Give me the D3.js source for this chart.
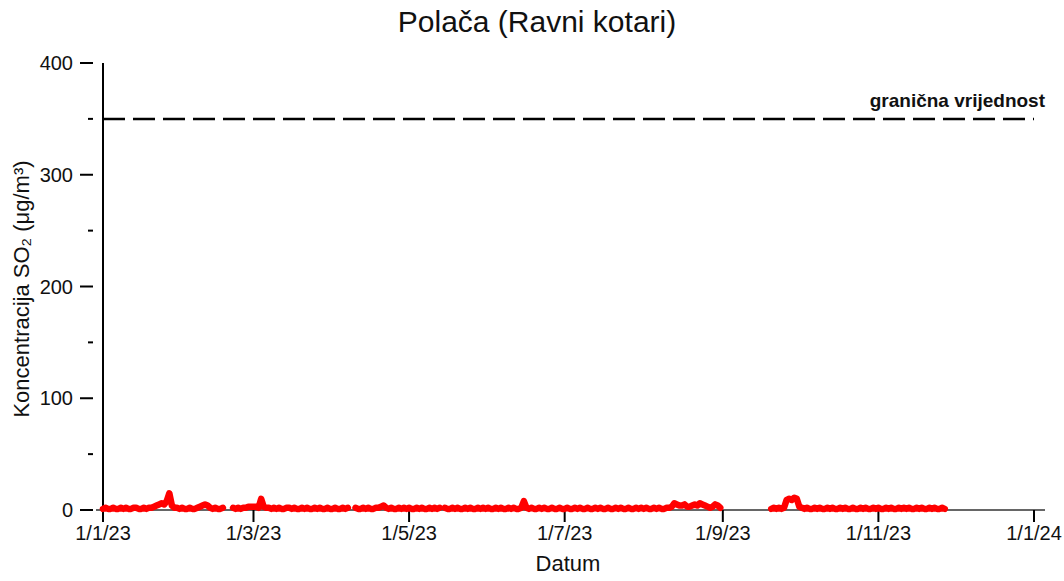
<!DOCTYPE html>
<html>
<head>
<meta charset="utf-8">
<script src="https://cdn.jsdelivr.net/npm/d3@7"></script>
<style>
  body { margin: 0; background: #fff; }
  text { font-family: "Liberation Sans", Arial, sans-serif; }
</style>
</head>
<body>
<script>
// daily SO2 values (µg/m³), null = no data
var jan = [1,2,1,1,2,1,1,2,1,2, 1,1,2,2,1,1,2,1,2,2, 3,4,5,6,5,8,15,4,2,2, 1]
var feb = [2,1,1,2,1,1,2,3,4,5, 4,2,1,2,1,1,2,null,null,null, 2,1,2,1,2,2,3,3]
var mar = [3,3,2,10,3,2,2,1,2,1, 2,1,1,2,2,1,2,1,1,2, 1,2,1,1,2,1,2,1,1,2, 1]
var apr = [1,2,1,1,2,1,2,null,null,2, 1,1,2,1,2,1,1,2,2,3, 4,2,1,2,1,1,2,1,2,1]
var may = [2,1,1,2,1,2,1,1,2,1, 2,1,2,null,2,1,1,2,1,2, 1,1,2,1,2,1,1,2,1,2, 1]
var jun = [2,1,1,2,1,2,1,1,2,1, 2,1,1,2,8,2,1,2,1,1, 2,1,2,1,1,2,1,1,2,1]
var jul = [1,2,1,1,2,1,2,1,1,2, 1,1,2,1,2,1,1,2,1,1, 2,1,2,1,1,2,1,1,2,1, 2]
var aug = [1,2,1,1,2,1,2,1,1,2, 2,3,6,5,4,4,5,3,3,4, 5,4,6,5,4,3,2,3,5,4, 2]
var sep = [null,null,null,null,null,null,null,null,null,null,
           null,null,null,null,null,null,null,null,null,
           1,2,1,2,1,2, 9,10,9,11,10]
var oct = [3,2,1,2,1,1,2,1,2,1, 1,2,1,2,1,1,2,1,2,1, 1,2,1,1,2,1,2,1,1,2, 1]
var nov = [2,1,1,2,1,2,1,1,2,1, 2,1,2,1,1,2,1,2,1,1, 2,1,2,1,1,2,1]

var limitValue = 350
var limitLabel = "granična vrijednost"
var xTickDates = ["2023-01-01","2023-03-01","2023-05-01","2023-07-01","2023-09-01","2023-11-01","2024-01-01"]
var yMajorTicks = [0,100,200,300,400]
var yMinorTicks = [50,150,250,350]

svg_w = 1064
svg_h = 581
var svg = d3.select("body").append("svg")
        .attr("width", svg_w)
        .attr("height", svg_h)

var values = [].concat(jan,feb,mar,apr,may,jun,jul,aug,sep,oct,nov)
var start = new Date(2023,0,1)
var data = values.map((v,i) => ({date: d3.timeDay.offset(start, i), v: v}))

var xscale = d3.scaleTime().domain([new Date(2023,0,1), new Date(2024,0,1)]).range([103,1034])
var yscale = d3.scaleLinear().domain([0,400]).range([510,63])
var parse = d3.timeParse("%Y-%m-%d")

// title
svg.append("text").attr("x", 537).attr("y", 32)
   .attr("text-anchor","middle").attr("font-size", 30).attr("fill","#111")
   .text("Polača (Ravni kotari)")

// x axis line
svg.append("line").attr("x1", 96).attr("x2", 1045).attr("y1", 510).attr("y2", 510)
   .attr("stroke","#333").attr("stroke-width",1.5)

// x ticks
var xTicks = svg.append("g").selectAll("g").data(xTickDates).enter().append("g")
   .attr("transform", d => "translate(" + xscale(parse(d)) + ",0)")
xTicks.append("line").attr("y1",510).attr("y2",522).attr("stroke","#000").attr("stroke-width",2)
xTicks.append("text").attr("y",540).attr("text-anchor","middle").attr("font-size",20).attr("fill","#111")
   .text(d => { var p = parse(d); return p.getDate()+"/"+(p.getMonth()+1)+"/"+d3.timeFormat("%y")(p) })

// y axis line
svg.append("line").attr("x1",103).attr("x2",103).attr("y1",63).attr("y2",510)
   .attr("stroke","#000").attr("stroke-width",2)

var yt = svg.append("g").selectAll("g").data(yMajorTicks).enter().append("g")
   .attr("transform", d => "translate(0," + yscale(d) + ")")
yt.append("line").attr("x1",80).attr("x2",93).attr("stroke","#000").attr("stroke-width",2)
yt.append("text").attr("x",73).attr("dy","0.35em").attr("text-anchor","end").attr("font-size",20).attr("fill","#111")
   .text(d => d)

svg.append("g").selectAll("line").data(yMinorTicks).enter().append("line")
   .attr("x1",88).attr("x2",93).attr("y1",d => yscale(d)).attr("y2",d => yscale(d))
   .attr("stroke","#000").attr("stroke-width",2)

// axis labels
svg.append("text").attr("x",568).attr("y",571).attr("text-anchor","middle").attr("font-size",22).attr("fill","#111")
   .text("Datum")
svg.append("text").attr("transform","translate(29,289) rotate(-90)").attr("text-anchor","middle")
   .attr("font-size",22).attr("fill","#111")
   .text("Koncentracija SO₂ (μg/m³)")

// limit line
svg.append("line").attr("x1",103).attr("x2",1034).attr("y1",yscale(limitValue)).attr("y2",yscale(limitValue))
   .attr("stroke","#000").attr("stroke-width",2.5).attr("stroke-dasharray","22,8")
svg.append("text").attr("x",1045).attr("y",yscale(limitValue)-12).attr("text-anchor","end")
   .attr("font-size",19).attr("font-weight","bold").attr("fill","#111")
   .text(limitLabel)

// SO2 series
var line = d3.line().defined(d => d.v != null)
   .x(d => xscale(d.date)).y(d => yscale(d.v))
svg.append("path").datum(data).attr("d", line)
   .attr("fill","none").attr("stroke","#ff0000").attr("stroke-width",6.5)
   .attr("stroke-linejoin","round").attr("stroke-linecap","round")
</script>
</body>
</html>
